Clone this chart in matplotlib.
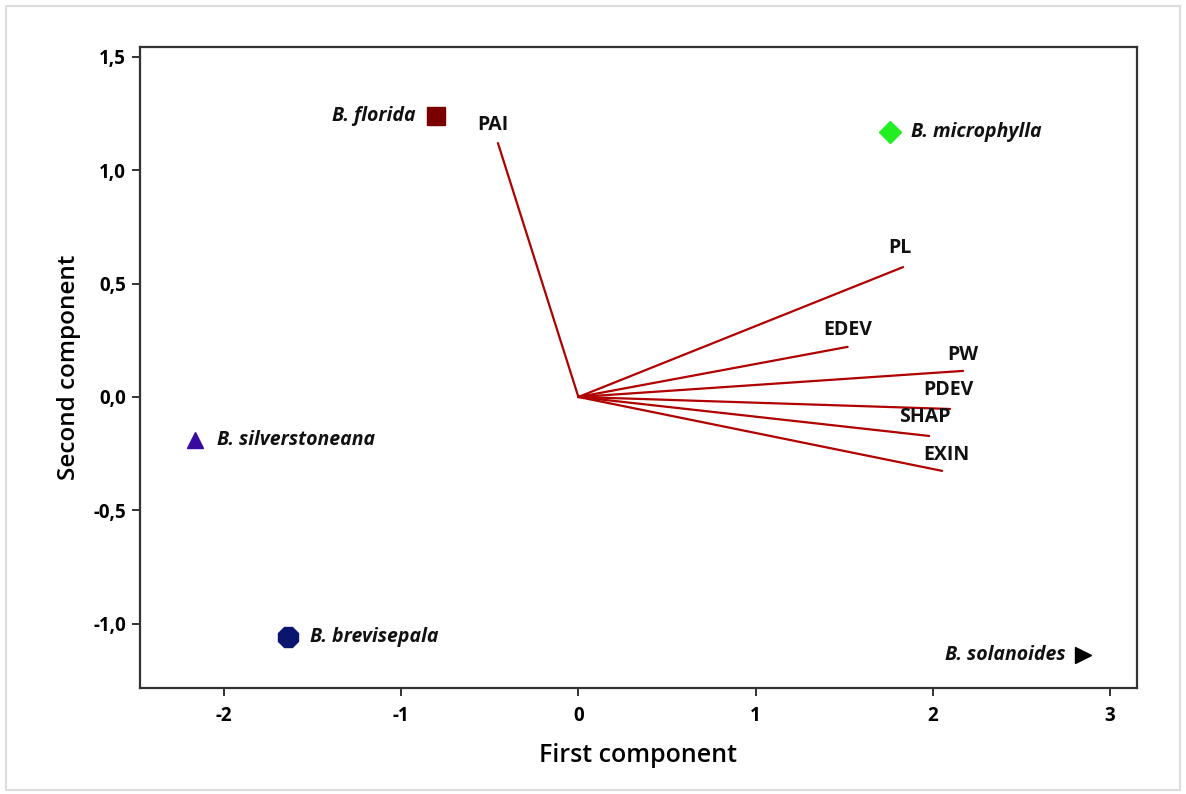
"""
PCA biplot of pollen traits for five Bunchosia species (first two components).
"""
import matplotlib.pyplot as plt
from matplotlib.patches import Rectangle
from matplotlib.ticker import FuncFormatter

plt.rcParams["font.family"] = ["Open Sans", "DejaVu Sans"]

# ---------------------------------------------------------------------------
# Data
# ---------------------------------------------------------------------------
species = ["B. florida", "B. microphylla", "B. silverstoneana", "B. brevisepala", "B. solanoides"]
pc1_scores = [-0.805, 1.758, -2.164, -1.640, 2.847]
pc2_scores = [1.240, 1.169, -0.190, -1.059, -1.138]

variables = ["PAI", "PL", "EDEV", "PW", "PDEV", "SHAP", "EXIN"]
pc1_loadings = [-0.454, 1.832, 1.519, 2.170, 2.097, 1.979, 2.052]
pc2_loadings = [1.120, 0.573, 0.221, 0.115, -0.053, -0.172, -0.326]

# ---------------------------------------------------------------------------
# Styling
# ---------------------------------------------------------------------------
markers = ["s", "D", "^", "8", ">"]
marker_colors = ["#7a0000", "#22ee22", "#3a0aa0", "#0a1570", "#000000"]
marker_sizes = [13, 11, 12, 16, 12]
# species label: (offset px, ha)
sp_label = [((-20, 0), "right"), ((21, 0), "left"), ((22, 0), "left"),
            ((22, 0), "left"), ((-17, 0), "right")]
# variable label offsets in px relative to the arrow tip
var_offsets = [(-5, 18), (-3, 19), (0, 17), (0, 16), (-2, 19), (-4, 19), (4, 16)]

line_col = "#b00000"
spine_col = "#333333"

fig = plt.figure(figsize=(11.86, 7.94), dpi=100)
ax = fig.add_axes([0.118, 0.1335, 0.8407, 0.8073])

# loading vectors
for name, lx, ly, off in zip(variables, pc1_loadings, pc2_loadings, var_offsets):
    ax.plot([0, lx], [0, ly], color=line_col, lw=1.6, solid_capstyle="round", zorder=2)
    ax.annotate(name, (lx, ly), xytext=off, textcoords="offset pixels",
                ha="center", va="center", fontsize=14, fontweight="bold", color="#111111")

# species scores
for name, x, y, m, c, s, (off, ha) in zip(species, pc1_scores, pc2_scores, markers,
                                          marker_colors, marker_sizes, sp_label):
    ax.plot(x, y, marker=m, color=c, markersize=s, markeredgecolor=c, ls="none", zorder=3)
    ax.annotate(name, (x, y), xytext=off, textcoords="offset pixels",
                ha=ha, va="center", fontsize=14, fontweight="bold", fontstyle="italic",
                color="#111111")

ax.set_xlim(-2.474, 3.152)
ax.set_ylim(-1.284, 1.544)
ax.set_xticks([-2, -1, 0, 1, 2, 3])
ax.set_yticks([-1.0, -0.5, 0.0, 0.5, 1.0, 1.5])
ax.xaxis.set_major_formatter(FuncFormatter(lambda v, p: f"{v:g}"))
ax.yaxis.set_major_formatter(FuncFormatter(lambda v, p: f"{v:.1f}".replace(".", ",")))

for sp in ax.spines.values():
    sp.set_color(spine_col)
    sp.set_linewidth(1.6)
ax.tick_params(direction="out", length=6, width=1.4, color=spine_col, labelsize=13.5)
ax.tick_params(axis="x", pad=7)
ax.tick_params(axis="y", pad=4)
for lab in ax.get_xticklabels() + ax.get_yticklabels():
    lab.set_fontweight("bold")

ax.set_xlabel("First component", fontsize=18, fontweight="semibold", labelpad=12)
ax.set_ylabel("Second component", fontsize=17.5, fontweight="semibold", labelpad=9)

# thin light-grey frame around the whole picture
fig.patches.append(Rectangle((0.005, 0.005), 0.99, 0.987, transform=fig.transFigure,
                             fill=False, ec="#dddddd", lw=1.5))

fig.savefig("out.png", dpi=100)
